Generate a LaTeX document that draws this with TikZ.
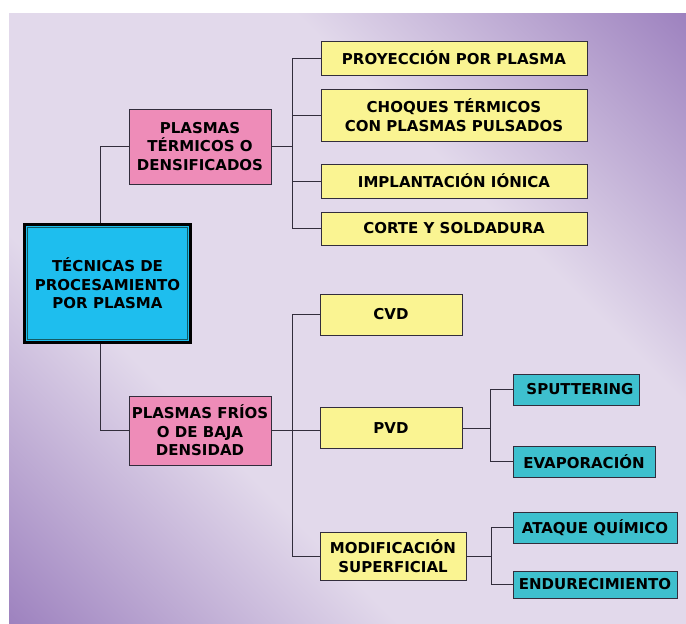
\documentclass[tikz,border=0pt]{standalone}
\usepackage{fontspec}
\setmainfont{DejaVu Sans}
\definecolor{bgpurple}{RGB}{156,128,190}
\definecolor{bglight}{RGB}{226,217,235}
\definecolor{pinkbox}{RGB}{238,140,184}
\definecolor{yellowbox}{RGB}{250,244,146}
\definecolor{cyanbox}{RGB}{30,190,238}
\definecolor{tealbox}{RGB}{62,192,206}
\definecolor{linec}{RGB}{50,45,60}
\definecolor{innerc}{RGB}{20,90,100}
\pgfdeclarehorizontalshading{bgshade}{100bp}{color(0bp)=(bgpurple); color(14bp)=(bgpurple); color(36bp)=(bglight); color(64bp)=(bglight); color(86bp)=(bgpurple); color(100bp)=(bgpurple)}
\begin{document}
\begin{tikzpicture}[x=1pt,y=-1pt,
  box/.style={draw=linec, line width=0.9pt, align=center, inner sep=0pt,
    font=\bfseries\fontsize{15}{18.5}\selectfont},
  pinkn/.style={box, fill=pinkbox},
  yelln/.style={box, fill=yellowbox},
  tealn/.style={box, fill=tealbox},
  mainn/.style={box, fill=cyanbox, draw=black, line width=3pt},
  conn/.style={draw=linec, line width=1pt}]
\useasboundingbox (0,0) rectangle (686,624);
\fill[white] (0,0) rectangle (686,624);
\shade[shading=bgshade, shading angle=45] (9,13) rectangle (686,624);

% nodes
\node[mainn, minimum width=166pt, minimum height=118pt] (main) at (107.5,283.5) {TÉCNICAS DE\\PROCESAMIENTO\\POR PLASMA};
\draw[innerc, line width=0.8pt] ([shift={(4.5,4.5)}]main.north west) rectangle ([shift={(-4.5,-4.5)}]main.south east);

\node[pinkn, minimum width=142pt, minimum height=75pt] (p1) at (200,146.5) {PLASMAS\\TÉRMICOS O\\DENSIFICADOS};
\node[pinkn, minimum width=142pt, minimum height=69pt] (p2) at (200,430.5) {PLASMAS FRÍOS\\O DE BAJA\\DENSIDAD};

\node[yelln, minimum width=266pt, minimum height=34pt] (y1) at (454,58) {PROYECCIÓN POR PLASMA};
\node[yelln, minimum width=266pt, minimum height=52pt] (y2) at (454,115) {CHOQUES TÉRMICOS\\CON PLASMAS PULSADOS};
\node[yelln, minimum width=266pt, minimum height=34pt] (y3) at (454,181) {IMPLANTACIÓN IÓNICA};
\node[yelln, minimum width=266pt, minimum height=33pt] (y4) at (454,228.5) {CORTE Y SOLDADURA};

\node[yelln, minimum width=142pt, minimum height=41pt] (cvd) at (391,314.5) {CVD};
\node[yelln, minimum width=142pt, minimum height=41pt] (pvd) at (391,428) {PVD};
\node[yelln, minimum width=146pt, minimum height=48pt] (mod) at (393,556) {MODIFICACIÓN\\SUPERFICIAL};

\node[tealn, minimum width=126pt, minimum height=31pt] (sput) at (576,389.5) {\hspace*{8pt}SPUTTERING};
\node[tealn, minimum width=142pt, minimum height=31pt] (evap) at (584,461.5) {EVAPORACIÓN};
\node[tealn, minimum width=164pt, minimum height=31pt] (ataq) at (595,527.5) {ATAQUE QUÍMICO};
\node[tealn, minimum width=164pt, minimum height=27pt] (endu) at (595,584.5) {ENDURECIMIENTO};

% connectors
\draw[conn] (p1.west) -| ([xshift=-7.5pt]main.north);
\draw[conn] (p2.west) -| ([xshift=-7pt]main.south);

\draw[conn] (y1.west) -- ++(-28,0) coordinate (t1) |- (y4.west);
\draw[conn] (y2.west) -- (y2.west -| t1);
\draw[conn] (y3.west) -- (y3.west -| t1);
\draw[conn] (p1.east) -- (p1.east -| t1);

\draw[conn] (cvd.west) -- ++(-27,0) coordinate (t2) |- (mod.west);
\draw[conn] (p2.east) -- (p2.east -| pvd.west);

\draw[conn] (sput.west) -- ++(-22,0) coordinate (t3) |- (evap.west);
\draw[conn] (pvd.east) -- (pvd.east -| t3);

\draw[conn] (ataq.west) -- ++(-21,0) coordinate (t4) |- (endu.west);
\draw[conn] (mod.east) -- (mod.east -| t4);
\end{tikzpicture}
\end{document}
